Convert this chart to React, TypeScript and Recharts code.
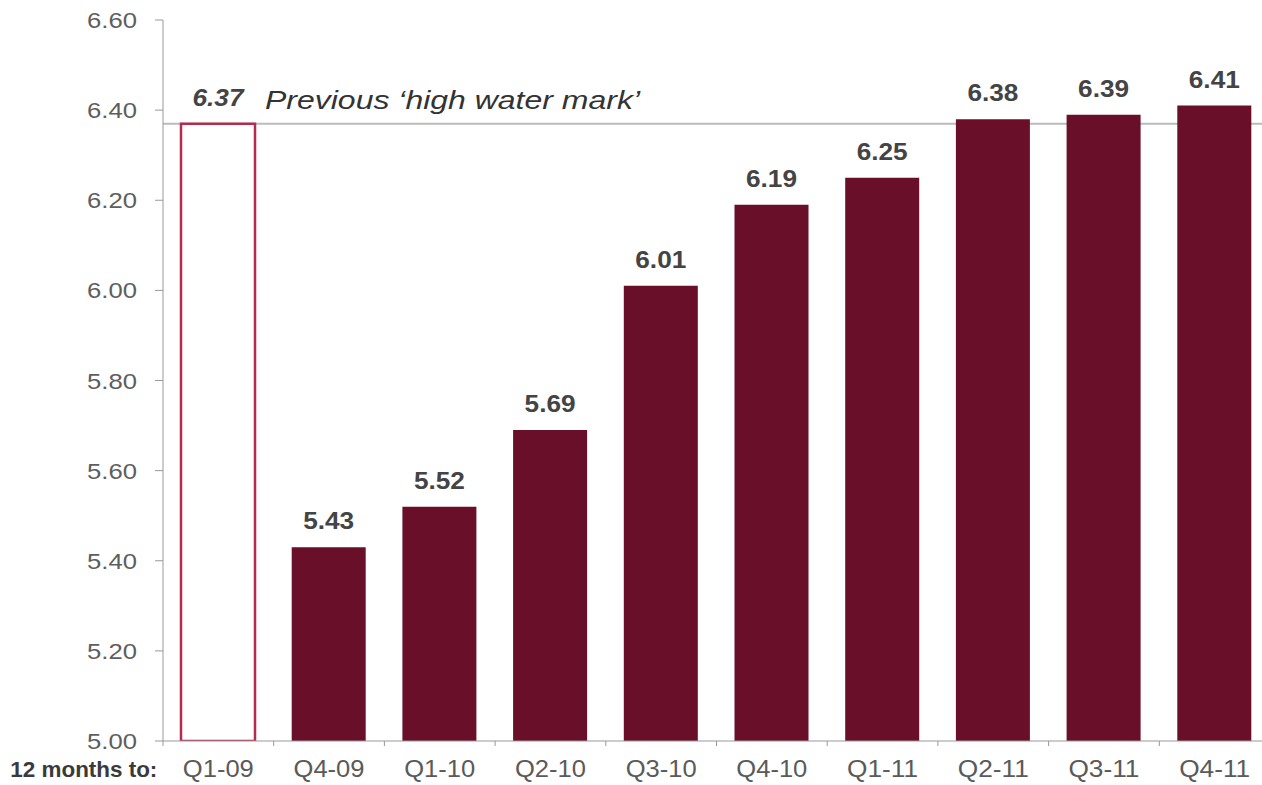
import { BarChart, Bar, XAxis, YAxis, Cell, LabelList, ReferenceLine, CartesianGrid } from 'recharts';

const quarters = ['Q1-09', 'Q4-09', 'Q1-10', 'Q2-10', 'Q3-10', 'Q4-10', 'Q1-11', 'Q2-11', 'Q3-11', 'Q4-11'];
const values = [6.37, 5.43, 5.52, 5.69, 6.01, 6.19, 6.25, 6.38, 6.39, 6.41];
const yTicks = [5.0, 5.2, 5.4, 5.6, 5.8, 6.0, 6.2, 6.4, 6.6];
const highWaterMark = 6.37;
const highWaterText = 'Previous \u2018high water mark\u2019';
const axisPrefix = '12 months to:';

const data = quarters.map((q, i) => ({ quarter: q, value: values[i] }));

const FONT = 'Liberation Sans, Arial, sans-serif';
const BAR = '#6a0f29';
const OUTLINE = '#b52a4d';

// x tick: label at centre, small tick mark on the category boundary
function QuarterTick(props: any) {
  const { x, y, payload, index, width, visibleTicksCount } = props;
  const band = width / visibleTicksCount;
  return (
    <g>
      <line x1={x + band / 2} x2={x + band / 2} y1={y - 8} y2={y - 3} stroke="#999" />
      {index === 0 && <line x1={x - band / 2} x2={x - band / 2} y1={y - 8} y2={y - 3} stroke="#999" />}
      <text x={x} y={y + 28} textAnchor="middle" fill="#5a5a5a" fontSize={23} fontFamily={FONT} textLength={71} lengthAdjust="spacingAndGlyphs">
        {payload.value}
      </text>
      {index === 0 && (
        <text x={x - 61} y={y + 28} textAnchor="end" fill="#3a3a3a" fontSize={22} fontWeight="bold" fontFamily={FONT} textLength={147} lengthAdjust="spacingAndGlyphs">
          {axisPrefix}
        </text>
      )}
    </g>
  );
}

function YTick(props: any) {
  const { x, y, payload } = props;
  return (
    <text x={x} y={y + 8} textAnchor="end" fill="#5e5e5e" fontSize={22} fontFamily={FONT} textLength={50} lengthAdjust="spacingAndGlyphs">
      {payload.value.toFixed(2)}
    </text>
  );
}

function ValueLabel(props: any) {
  const { x, y, width, value, index } = props;
  return (
    <text
      x={x + width / 2}
      y={y - 18}
      textAnchor="middle"
      fill="#444"
      fontSize={23}
      fontWeight="bold"
      fontStyle={index === 0 ? 'italic' : 'normal'}
      fontFamily={FONT}
      textLength={51}
      lengthAdjust="spacingAndGlyphs"
    >
      {value.toFixed(2)}
    </text>
  );
}

function MarkLabel(props: any) {
  const { viewBox } = props;
  return (
    <text x={viewBox.x + 102} y={viewBox.y - 15} fill="#333" fontSize={25} fontStyle="italic" fontFamily={FONT} textLength={375} lengthAdjust="spacingAndGlyphs">
      {highWaterText}
    </text>
  );
}

export default function App() {
  return (
    <div style={{ position: 'fixed', left: 0, top: 0, width: 1262, height: 785, overflow: 'hidden', background: '#fff' }}>
      <BarChart width={1280} height={785} data={data} margin={{ top: 20, right: 10, bottom: 0, left: 0 }} barSize={74}>
        {/* high water mark line sits behind the bars */}
        <CartesianGrid vertical={false} horizontalValues={[highWaterMark]} stroke="#bbb" strokeWidth={2} />
        <XAxis
          dataKey="quarter"
          height={44}
          stroke="#999"
          tickLine={false}
          tick={<QuarterTick />}
          interval={0}
        />
        <YAxis
          width={163}
          domain={[5, 6.6]}
          ticks={yTicks}
          allowDataOverflow
          stroke="#999"
          tickSize={8}
          tickMargin={18}
          tick={<YTick />}
        />
        <ReferenceLine y={highWaterMark} stroke="none" label={<MarkLabel />} />
        <Bar dataKey="value" isAnimationActive={false}>
          {data.map((d, i) => (
            <Cell
              key={d.quarter}
              fill={i === 0 ? '#fff' : BAR}
              stroke={i === 0 ? OUTLINE : BAR}
              strokeWidth={i === 0 ? 2.5 : 0}
            />
          ))}
          <LabelList dataKey="value" content={<ValueLabel />} />
        </Bar>
      </BarChart>
    </div>
  );
}
